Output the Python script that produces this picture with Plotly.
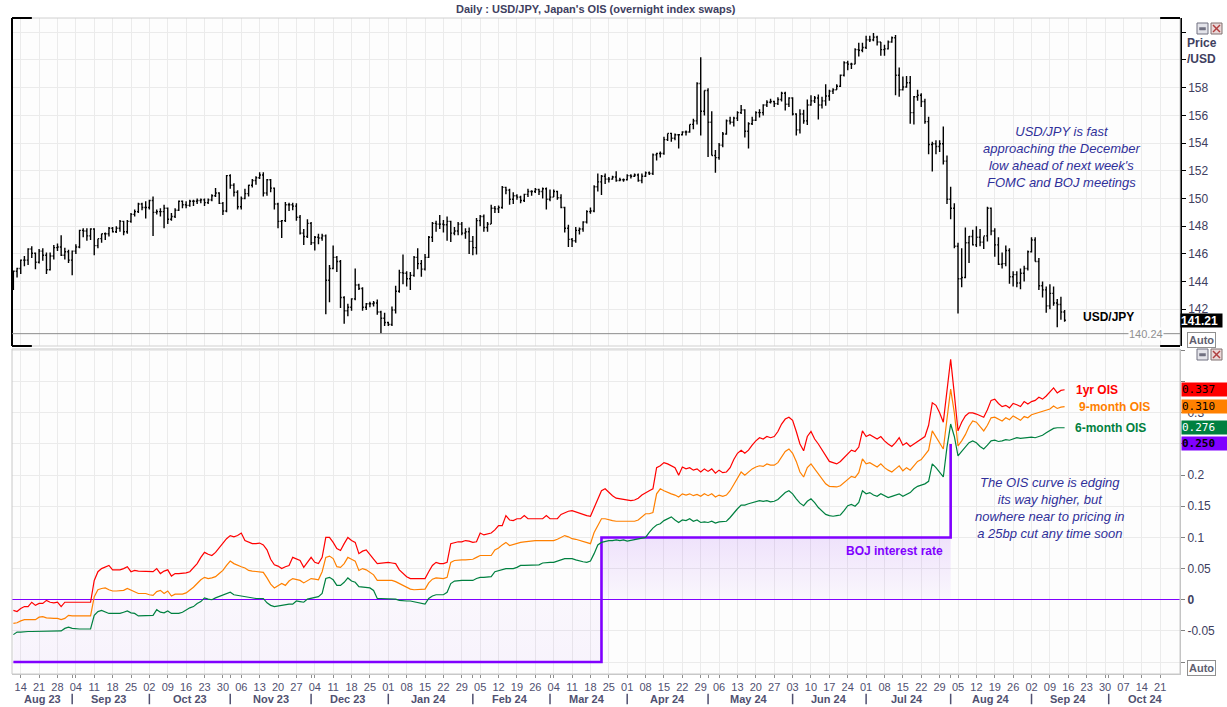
import pandas as pd
import plotly.graph_objects as go

# ---------------- data ----------------
first_day = "2023-08-10"
last_day = "2024-09-13"
dates = pd.bdate_range(first_day, last_day)

# USD/JPY daily OHLC (first row Aug 10-11 2023, then one row per week)
usd_open = [
    143.75, 144.75,
    144.95, 145.55, 145.55, 146.35, 146.05,
    145.40, 146.20, 145.90, 144.85, 145.85,
    146.45, 146.50, 145.90, 146.15, 145.55,
    146.20, 146.50, 147.70, 147.65, 147.30,
    147.80, 146.60, 147.10, 147.45, 147.45,
    147.85, 147.60, 147.85, 148.35, 147.60,
    148.35, 148.85, 149.05, 149.60, 149.35,
    149.35, 149.85, 149.00, 149.05, 149.05,
    149.30, 148.50, 148.70, 149.15, 149.80,
    149.55, 149.50, 149.80, 149.80, 149.85,
    149.90, 149.70, 149.90, 150.20, 150.40,
    149.65, 149.10, 151.65, 150.95, 150.45,
    149.40, 150.00, 150.35, 150.95, 151.30,
    151.50, 151.70, 150.40, 151.35, 150.75,
    149.60, 148.35, 148.40, 149.55, 149.55,
    149.45, 148.65, 147.50, 147.25, 148.20,
    146.80, 147.20, 147.15, 147.30, 144.10,
    144.95, 145.75, 145.45, 142.85, 141.90,
    142.15, 142.75, 143.75, 143.50, 142.15,
    142.40, 142.40, 142.45, 141.80, 141.35,
    141.05, 140.90, 141.95, 143.30, 144.65,
    144.60, 144.20, 144.45, 145.75, 145.30,
    144.90, 145.75, 147.20, 148.20, 148.15,
    148.15, 148.10, 148.35, 147.50, 147.65,
    148.15, 147.50, 147.60, 146.90, 146.45,
    148.40, 148.70, 147.90, 148.15, 149.30,
    149.25, 149.35, 150.80, 150.60, 149.95,
    150.20, 150.10, 149.85, 150.30, 150.50,
    150.50, 150.65, 150.50, 150.70, 149.95,
    150.10, 150.50, 150.05, 149.35, 147.85,
    147.05, 146.95, 147.70, 147.80, 148.30,
    149.05, 149.10, 150.85, 151.20, 151.60,
    151.40, 151.40, 151.55, 151.30, 151.35,
    151.35, 151.65, 151.60, 151.70, 151.30,
    151.60, 151.85, 151.80, 153.15, 153.25,
    153.25, 154.25, 154.70, 154.35, 154.60,
    154.60, 154.80, 154.80, 155.35, 155.60,
    158.30, 156.30, 157.80, 155.50, 153.10,
    152.95, 153.85, 154.65, 155.60, 155.50,
    155.80, 156.20, 156.40, 154.85, 155.40,
    155.65, 156.20, 156.20, 156.75, 156.95,
    157.00, 156.85, 157.15, 157.60, 156.80,
    157.25, 156.10, 154.95, 156.10, 155.60,
    156.75, 157.05, 157.25, 156.75, 157.05,
    157.40, 157.75, 157.85, 158.10, 158.90,
    159.80, 159.70, 159.70, 160.75, 160.70,
    160.90, 161.45, 161.45, 161.65, 161.30,
    160.75, 160.80, 161.30, 161.60, 158.90,
    157.85, 158.05, 158.35, 156.20, 157.35,
    157.45, 157.00, 155.55, 153.90, 153.95,
    153.75, 153.95, 152.70, 149.95, 149.30,
    146.55, 144.20, 144.30, 146.80, 147.25,
    146.65, 147.20, 146.85, 147.30, 149.30,
    147.65, 146.65, 145.25, 145.30, 146.25,
    144.35, 144.50, 143.90, 144.60, 144.95,
    146.15, 147.00, 145.45, 143.70, 143.40,
    142.25, 143.15, 142.45, 142.35, 141.80,
]
usd_high = [
    144.80, 145.00,
    145.60, 145.85, 146.40, 146.55, 146.10,
    146.35, 146.40, 146.10, 146.10, 146.65,
    146.75, 147.35, 146.45, 146.30, 146.25,
    146.70, 147.75, 147.85, 147.85, 147.85,
    147.85, 147.10, 147.45, 147.55, 147.95,
    147.95, 148.00, 148.45, 148.40, 148.45,
    148.95, 149.20, 149.70, 149.70, 149.80,
    149.90, 150.15, 149.20, 149.30, 149.55,
    149.35, 148.95, 149.30, 149.85, 149.85,
    149.80, 149.90, 149.90, 150.00, 150.00,
    150.00, 150.00, 150.30, 150.75, 150.45,
    149.75, 151.70, 151.75, 151.10, 150.60,
    150.15, 150.70, 151.00, 151.40, 151.60,
    151.90, 151.90, 151.40, 151.40, 150.80,
    149.70, 148.45, 149.75, 149.70, 149.70,
    149.65, 148.80, 147.80, 148.50, 148.30,
    147.30, 147.45, 147.45, 147.40, 145.20,
    146.60, 145.85, 145.55, 142.95, 142.40,
    142.80, 144.95, 143.85, 143.60, 142.45,
    142.55, 142.60, 142.70, 141.90, 141.75,
    141.10, 142.20, 143.70, 144.85, 145.95,
    144.75, 144.70, 145.85, 146.40, 145.55,
    146.00, 147.30, 148.30, 148.40, 148.80,
    148.45, 148.70, 148.40, 147.95, 148.30,
    148.30, 147.85, 147.90, 147.30, 148.60,
    148.80, 148.85, 148.30, 149.55, 149.45,
    149.50, 150.90, 150.85, 150.70, 150.45,
    150.30, 150.20, 150.35, 150.70, 150.60,
    150.75, 150.70, 150.80, 150.80, 150.65,
    150.65, 150.55, 150.30, 149.40, 148.10,
    147.15, 147.95, 147.90, 148.35, 149.15,
    149.35, 150.95, 151.80, 151.70, 151.80,
    151.55, 151.65, 151.97, 151.50, 151.45,
    151.75, 151.75, 151.80, 151.80, 151.80,
    151.95, 151.95, 153.25, 153.30, 153.40,
    154.45, 154.70, 154.75, 154.70, 154.65,
    154.85, 154.90, 155.35, 155.75, 158.40,
    160.20, 157.80, 157.95, 156.30, 153.50,
    154.00, 154.80, 155.70, 155.90, 155.90,
    156.30, 156.75, 156.45, 155.50, 155.90,
    156.30, 156.45, 156.80, 157.10, 157.20,
    157.05, 157.30, 157.70, 157.70, 157.30,
    157.30, 156.15, 156.45, 156.40, 157.15,
    157.45, 157.40, 157.50, 157.35, 158.25,
    157.85, 157.95, 158.25, 158.95, 159.90,
    159.95, 159.80, 160.85, 161.25, 161.25,
    161.75, 161.75, 161.95, 161.75, 161.30,
    161.10, 161.40, 161.70, 161.80, 159.45,
    158.80, 158.85, 158.85, 157.40, 157.85,
    157.60, 157.20, 155.90, 154.10, 154.20,
    154.20, 155.20, 153.10, 150.85, 149.65,
    146.80, 146.40, 147.90, 147.30, 147.75,
    148.00, 147.80, 147.25, 149.40, 149.35,
    147.85, 147.20, 146.10, 146.60, 146.40,
    144.75, 144.75, 144.95, 145.15, 146.25,
    147.20, 147.20, 145.70, 144.00, 143.65,
    143.80, 143.65, 142.75, 142.90, 141.95,
]
usd_low = [
    143.40, 144.30,
    144.55, 145.10, 145.20, 145.70, 144.90,
    145.30, 145.50, 144.55, 144.80, 145.60,
    146.20, 145.85, 145.60, 145.35, 144.45,
    146.00, 146.40, 147.20, 146.95, 147.00,
    145.90, 146.40, 146.80, 147.00, 147.25,
    147.55, 147.50, 147.60, 147.35, 147.45,
    148.25, 148.70, 148.95, 149.15, 148.55,
    149.20, 147.30, 148.85, 148.70, 147.85,
    148.15, 148.40, 148.60, 149.10, 149.30,
    149.30, 149.40, 149.45, 149.60, 149.65,
    149.45, 149.60, 149.80, 150.10, 149.60,
    148.80, 149.00, 150.70, 150.15, 149.20,
    149.20, 149.95, 150.15, 150.80, 151.00,
    151.40, 150.15, 150.20, 150.45, 149.20,
    147.85, 147.15, 148.30, 149.10, 149.15,
    148.40, 147.40, 146.65, 147.15, 146.65,
    146.25, 146.70, 146.95, 141.65, 142.50,
    144.90, 144.70, 142.10, 140.95, 141.50,
    141.90, 142.65, 143.40, 141.90, 141.95,
    142.15, 142.20, 141.60, 140.25, 140.80,
    140.80, 140.80, 141.70, 143.20, 143.80,
    143.65, 143.40, 144.35, 144.90, 144.35,
    144.80, 145.70, 146.85, 147.60, 147.80,
    147.55, 146.95, 146.85, 147.35, 147.35,
    147.35, 147.10, 146.00, 145.90, 145.95,
    148.00, 147.60, 147.60, 148.15, 148.95,
    148.95, 149.25, 150.30, 149.55, 149.60,
    149.90, 149.65, 149.75, 150.10, 150.20,
    150.40, 150.25, 150.00, 149.20, 149.80,
    150.10, 149.90, 149.30, 147.55, 146.50,
    146.50, 146.80, 147.40, 147.60, 148.20,
    148.90, 149.00, 150.50, 150.25, 151.05,
    151.15, 151.35, 151.20, 151.25, 151.20,
    151.30, 151.45, 151.55, 151.20, 151.10,
    151.55, 151.70, 151.70, 152.75, 152.95,
    153.15, 154.15, 154.10, 154.20, 153.60,
    154.55, 154.55, 154.75, 155.00, 155.35,
    154.55, 156.00, 153.00, 153.10, 151.85,
    152.80, 153.70, 154.60, 155.35, 155.20,
    155.60, 156.10, 154.40, 153.60, 155.30,
    155.60, 155.85, 156.00, 156.60, 156.85,
    156.60, 156.75, 157.00, 156.35, 156.60,
    156.00, 154.55, 154.70, 155.40, 155.30,
    156.70, 156.90, 155.70, 156.50, 156.70,
    157.05, 157.55, 157.85, 158.05, 158.80,
    159.25, 159.35, 159.70, 160.25, 160.55,
    160.80, 161.30, 161.35, 161.05, 160.30,
    160.30, 160.75, 161.25, 157.45, 157.35,
    157.80, 158.00, 155.40, 155.35, 157.05,
    156.60, 155.40, 153.20, 151.95, 153.20,
    153.35, 152.45, 149.60, 148.50, 146.40,
    141.70, 143.60, 144.25, 145.35, 146.60,
    146.50, 146.55, 146.35, 146.90, 147.35,
    145.80, 145.20, 144.95, 145.10, 143.85,
    143.65, 143.60, 143.45, 144.00, 144.80,
    146.10, 145.45, 143.40, 142.85, 141.75,
    142.00, 142.25, 140.70, 141.25, 141.10,
]
usd_close = [
    144.75, 144.95,
    145.55, 145.55, 146.35, 146.05, 145.40,
    146.20, 145.90, 144.85, 145.85, 146.45,
    146.50, 145.90, 146.15, 145.55, 146.20,
    146.50, 147.70, 147.65, 147.30, 147.80,
    146.60, 147.10, 147.45, 147.45, 147.85,
    147.60, 147.85, 148.35, 147.60, 148.35,
    148.85, 149.05, 149.60, 149.35, 149.35,
    149.85, 149.00, 149.05, 149.05, 149.30,
    148.50, 148.70, 149.15, 149.80, 149.55,
    149.50, 149.80, 149.80, 149.85, 149.90,
    149.70, 149.90, 150.20, 150.40, 149.65,
    149.10, 151.65, 150.95, 150.45, 149.40,
    150.00, 150.35, 150.95, 151.30, 151.50,
    151.70, 150.40, 151.35, 150.75, 149.60,
    148.35, 148.40, 149.55, 149.55, 149.45,
    148.65, 147.50, 147.25, 148.20, 146.80,
    147.20, 147.15, 147.30, 144.10, 144.95,
    145.75, 145.45, 142.85, 141.90, 142.15,
    142.75, 143.75, 143.50, 142.15, 142.40,
    142.40, 142.45, 141.80, 141.35, 141.05,
    140.90, 141.95, 143.30, 144.65, 144.60,
    144.20, 144.45, 145.75, 145.30, 144.90,
    145.75, 147.20, 148.20, 148.15, 148.15,
    148.10, 148.35, 147.50, 147.65, 148.15,
    147.50, 147.60, 146.90, 146.45, 148.40,
    148.70, 147.90, 148.15, 149.30, 149.25,
    149.35, 150.80, 150.60, 149.95, 150.20,
    150.10, 149.85, 150.30, 150.50, 150.50,
    150.65, 150.50, 150.70, 149.95, 150.10,
    150.50, 150.05, 149.35, 147.85, 147.05,
    146.95, 147.70, 147.80, 148.30, 149.05,
    149.10, 150.85, 151.20, 151.60, 151.40,
    151.40, 151.55, 151.30, 151.35, 151.35,
    151.65, 151.60, 151.70, 151.30, 151.60,
    151.85, 151.80, 153.15, 153.25, 153.25,
    154.25, 154.70, 154.35, 154.60, 154.60,
    154.80, 154.80, 155.35, 155.60, 158.30,
    156.30, 157.80, 155.50, 153.10, 152.95,
    153.85, 154.65, 155.60, 155.50, 155.80,
    156.20, 156.40, 154.85, 155.40, 155.65,
    156.20, 156.20, 156.75, 156.95, 157.00,
    156.85, 157.15, 157.60, 156.80, 157.25,
    156.10, 154.95, 156.10, 155.60, 156.75,
    157.05, 157.25, 156.75, 157.05, 157.40,
    157.75, 157.85, 158.10, 158.90, 159.80,
    159.70, 159.70, 160.75, 160.70, 160.90,
    161.45, 161.45, 161.65, 161.30, 160.75,
    160.80, 161.30, 161.60, 158.90, 157.85,
    158.05, 158.35, 156.20, 157.35, 157.45,
    157.00, 155.55, 153.90, 153.95, 153.75,
    153.95, 152.70, 149.95, 149.30, 146.55,
    144.20, 144.30, 146.80, 147.25, 146.65,
    147.20, 146.85, 147.30, 149.30, 147.65,
    146.65, 145.25, 145.30, 146.25, 144.35,
    144.50, 143.90, 144.60, 144.95, 146.15,
    147.00, 145.45, 143.70, 143.40, 142.25,
    143.15, 142.45, 142.35, 141.80, 141.21,
]

# Japan OIS (%), same dates
ois_1y = [
    -0.017, -0.019,
    -0.014, -0.011, -0.011, -0.004, -0.009,
    -0.006, -0.006, -0.001, -0.004, -0.005,
    -0.004, -0.011, -0.004, -0.004, -0.004,
    -0.004, -0.004, -0.004, -0.004, -0.004,
    0.031, 0.045, 0.050, 0.052, 0.055,
    0.048, 0.048, 0.048, 0.050, 0.053,
    0.045, 0.047, 0.046, 0.046, 0.046,
    0.045, 0.045, 0.050, 0.042, 0.046,
    0.048, 0.038, 0.042, 0.042, 0.042,
    0.043, 0.045, 0.052, 0.058, 0.068,
    0.076, 0.073, 0.071, 0.076, 0.083,
    0.090, 0.098, 0.103, 0.101, 0.103,
    0.107, 0.095, 0.092, 0.090, 0.090,
    0.091, 0.088, 0.080, 0.065, 0.056,
    0.054, 0.050, 0.053, 0.055, 0.068,
    0.066, 0.063, 0.052, 0.060, 0.068,
    0.060, 0.058, 0.068, 0.100, 0.100,
    0.092, 0.082, 0.079, 0.090, 0.100,
    0.095, 0.092, 0.074, 0.078, 0.080,
    0.072, 0.065, 0.058, 0.059, 0.060,
    0.060, 0.059, 0.058, 0.048, 0.042,
    0.037, 0.034, 0.034, 0.034, 0.034,
    0.034, 0.045, 0.055, 0.060, 0.058,
    0.058, 0.060, 0.090, 0.092, 0.093,
    0.093, 0.095, 0.094, 0.092, 0.093,
    0.107, 0.104, 0.106, 0.107, 0.112,
    0.119, 0.119, 0.135, 0.128, 0.127,
    0.130, 0.130, 0.135, 0.130, 0.130,
    0.130, 0.130, 0.130, 0.135, 0.130,
    0.130, 0.130, 0.137, 0.140, 0.142,
    0.143, 0.141, 0.138, 0.136, 0.135,
    0.134, 0.148, 0.160, 0.175, 0.178,
    0.172, 0.167, 0.163, 0.162, 0.161,
    0.160, 0.159, 0.160, 0.163, 0.168,
    0.172, 0.175, 0.178, 0.212, 0.215,
    0.220, 0.218, 0.215, 0.212, 0.200,
    0.213, 0.210, 0.212, 0.208, 0.210,
    0.205, 0.210, 0.206, 0.210, 0.203,
    0.208, 0.204, 0.205, 0.212, 0.225,
    0.235, 0.240, 0.235, 0.240, 0.248,
    0.255, 0.260, 0.258, 0.262, 0.260,
    0.262, 0.270, 0.282, 0.290, 0.293,
    0.288, 0.270, 0.250, 0.239, 0.262,
    0.270, 0.258, 0.250, 0.240, 0.230,
    0.222, 0.220, 0.218, 0.222, 0.228,
    0.235, 0.240, 0.238, 0.245, 0.271,
    0.262, 0.265, 0.262, 0.258, 0.262,
    0.255, 0.250, 0.246, 0.252, 0.260,
    0.248, 0.252, 0.246, 0.250, 0.255,
    0.258, 0.262, 0.280, 0.316, 0.312,
    0.300, 0.285, 0.340, 0.386, 0.330,
    0.271, 0.285, 0.295, 0.300, 0.300,
    0.298, 0.295, 0.293, 0.305, 0.320,
    0.322, 0.315, 0.310, 0.312, 0.308,
    0.315, 0.313, 0.310, 0.318, 0.314,
    0.318, 0.320, 0.325, 0.322, 0.327,
    0.333, 0.340, 0.332, 0.336, 0.337,
]
ois_9m = [
    -0.038, -0.037,
    -0.034, -0.032, -0.032, -0.032, -0.032,
    -0.028, -0.027, -0.029, -0.030, -0.030,
    -0.030, -0.032, -0.030, -0.025, -0.026,
    -0.026, -0.026, -0.026, -0.026, -0.026,
    0.005, 0.016, 0.018, 0.019, 0.016,
    0.014, 0.014, 0.014, 0.015, 0.018,
    0.015, 0.012, 0.010, 0.010, 0.010,
    0.008, 0.007, 0.013, 0.015, 0.010,
    0.014, 0.006, 0.009, 0.009, 0.009,
    0.011, 0.015, 0.020, 0.026, 0.032,
    0.036, 0.034, 0.035, 0.037, 0.042,
    0.047, 0.055, 0.062, 0.058, 0.055,
    0.053, 0.051, 0.047, 0.046, 0.045,
    0.045, 0.044, 0.035, 0.025, 0.019,
    0.022, 0.026, 0.023, 0.030, 0.034,
    0.032, 0.031, 0.027, 0.030, 0.034,
    0.033, 0.032, 0.045, 0.068, 0.070,
    0.066, 0.053, 0.052, 0.058, 0.068,
    0.065, 0.062, 0.047, 0.050, 0.048,
    0.044, 0.040, 0.031, 0.031, 0.031,
    0.031, 0.031, 0.029, 0.026, 0.023,
    0.020, 0.017, 0.016, 0.016, 0.016,
    0.017, 0.027, 0.033, 0.035, 0.034,
    0.034, 0.036, 0.060, 0.063, 0.064,
    0.064, 0.064, 0.064, 0.065, 0.068,
    0.071, 0.071, 0.071, 0.071, 0.080,
    0.083, 0.088, 0.092, 0.087, 0.089,
    0.091, 0.092, 0.093, 0.094, 0.095,
    0.095, 0.095, 0.095, 0.095, 0.095,
    0.095, 0.097, 0.100, 0.103, 0.101,
    0.098, 0.097, 0.095, 0.093, 0.091,
    0.090, 0.108, 0.118, 0.130, 0.130,
    0.128, 0.127, 0.126, 0.126, 0.127,
    0.126, 0.127, 0.126, 0.128, 0.133,
    0.138, 0.138, 0.140, 0.170, 0.178,
    0.175, 0.172, 0.170, 0.168, 0.165,
    0.170, 0.168, 0.170, 0.167, 0.169,
    0.166, 0.170, 0.167, 0.170, 0.165,
    0.168, 0.166, 0.168, 0.175, 0.185,
    0.195, 0.205, 0.200, 0.205, 0.210,
    0.213, 0.215, 0.214, 0.218, 0.216,
    0.216, 0.220, 0.230, 0.238, 0.242,
    0.235, 0.222, 0.205, 0.197, 0.212,
    0.218, 0.210, 0.200, 0.193, 0.186,
    0.182, 0.181, 0.181, 0.183, 0.188,
    0.193, 0.198, 0.196, 0.204, 0.226,
    0.218, 0.220, 0.216, 0.213, 0.218,
    0.212, 0.208, 0.205, 0.210, 0.215,
    0.207, 0.212, 0.208, 0.215, 0.222,
    0.225, 0.232, 0.240, 0.271, 0.262,
    0.252, 0.242, 0.290, 0.338, 0.300,
    0.247, 0.255, 0.265, 0.278, 0.287,
    0.285, 0.278, 0.271, 0.280, 0.292,
    0.293, 0.290, 0.287, 0.292, 0.289,
    0.295, 0.292, 0.288, 0.294, 0.292,
    0.297, 0.299, 0.300, 0.302, 0.304,
    0.306, 0.311, 0.307, 0.309, 0.310,
]
ois_6m = [
    -0.056, -0.052,
    -0.052, -0.051, -0.051, -0.051, -0.051,
    -0.050, -0.050, -0.050, -0.050, -0.050,
    -0.050, -0.050, -0.046, -0.044, -0.046,
    -0.047, -0.047, -0.047, -0.047, -0.047,
    -0.025, -0.019, -0.017, -0.020, -0.022,
    -0.022, -0.022, -0.022, -0.020, -0.018,
    -0.021, -0.022, -0.026, -0.026, -0.026,
    -0.026, -0.025, -0.016, -0.020, -0.021,
    -0.018, -0.022, -0.022, -0.022, -0.020,
    -0.016, -0.013, -0.011, -0.006, -0.003,
    0.003, 0.001, 0.000, 0.003, 0.005,
    0.008, 0.010, 0.012, 0.008, 0.007,
    0.005, 0.004, 0.003, 0.002, 0.002,
    0.002, 0.002, -0.005, -0.009, -0.011,
    -0.010, -0.008, -0.007, -0.007, -0.007,
    -0.002, -0.003, -0.004, 0.001, 0.002,
    0.003, 0.005, 0.010, 0.034, 0.036,
    0.032, 0.023, 0.023, 0.028, 0.035,
    0.030, 0.028, 0.021, 0.020, 0.019,
    0.019, 0.015, 0.002, 0.002, 0.002,
    0.002, 0.002, 0.001, -0.001, -0.002,
    -0.002, -0.002, -0.003, -0.004, -0.006,
    -0.007, 0.002, 0.006, 0.008, 0.008,
    0.008, 0.012, 0.026, 0.030, 0.031,
    0.031, 0.031, 0.031, 0.031, 0.034,
    0.036, 0.036, 0.036, 0.037, 0.045,
    0.047, 0.049, 0.050, 0.050, 0.050,
    0.052, 0.055, 0.055, 0.055, 0.055,
    0.055, 0.056, 0.059, 0.060, 0.060,
    0.060, 0.062, 0.064, 0.066, 0.066,
    0.066, 0.064, 0.062, 0.061, 0.060,
    0.062, 0.074, 0.088, 0.092, 0.094,
    0.095, 0.095, 0.096, 0.095, 0.096,
    0.094, 0.095, 0.096, 0.097, 0.098,
    0.100, 0.108, 0.115, 0.120, 0.122,
    0.127, 0.130, 0.133, 0.128, 0.124,
    0.128, 0.127, 0.130, 0.126, 0.128,
    0.124, 0.125, 0.124, 0.126, 0.123,
    0.125, 0.125, 0.126, 0.132, 0.140,
    0.146, 0.152, 0.152, 0.154, 0.156,
    0.158, 0.159, 0.158, 0.159, 0.157,
    0.158, 0.161, 0.166, 0.172, 0.175,
    0.170, 0.162, 0.155, 0.151, 0.158,
    0.162, 0.156, 0.148, 0.142, 0.137,
    0.135, 0.134, 0.135, 0.136, 0.143,
    0.151, 0.153, 0.150, 0.156, 0.175,
    0.170, 0.172, 0.168, 0.166, 0.170,
    0.167, 0.164, 0.166, 0.168, 0.170,
    0.166, 0.169, 0.172, 0.178, 0.182,
    0.184, 0.186, 0.190, 0.218, 0.212,
    0.205, 0.197, 0.245, 0.282, 0.262,
    0.231, 0.238, 0.245, 0.252, 0.255,
    0.252, 0.246, 0.242, 0.248, 0.255,
    0.256, 0.254, 0.255, 0.257, 0.256,
    0.258, 0.260, 0.259, 0.260, 0.260,
    0.261, 0.260, 0.262, 0.264, 0.268,
    0.272, 0.275, 0.276, 0.276, 0.276,
]

# BOJ policy rate changes (effective dates)
boj_dates = ["2023-08-10", "2024-03-21", "2024-08-01"]
boj_rate = [-0.10, 0.10, 0.25]

dec_low = 140.24

price_ticks = [142, 144, 146, 148, 150, 152, 154, 156, 158, 160, 162]
price_labels = ["142", "144", "146", "148", "150", "152", "154", "156", "158", "", ""]
ois_ticks = [-0.1, -0.05, 0, 0.05, 0.1, 0.15, 0.2, 0.25, 0.3, 0.35, 0.4]
ois_labels = ["", "-0.05", "<b>0</b>", "0.05", "0.1", "0.15", "0.2", "", "0.3", "", ""]

x_range = ["2023-08-09 15:00", "2024-10-28 09:30"]
week_ticks = pd.date_range("2023-08-14", "2024-10-21", freq="7D")
week_labels = [d.strftime("%d") for d in week_ticks]
month_starts = pd.bdate_range("2023-09-01", "2024-10-01", freq="BMS")
month_list = pd.date_range("2023-08-01", "2024-10-01", freq="MS")

# ---------------- figure ----------------
FONT = "Liberation Sans, Arial, sans-serif"
RED, ORANGE, GREEN, PURPLE = "#ff0000", "#ff8000", "#008040", "#8000ff"
GRID = "#ebebeb"

fig = go.Figure()

fig.add_trace(go.Ohlc(
    x=dates, open=usd_open, high=usd_high, low=usd_low, close=usd_close,
    increasing=dict(line=dict(color="black", width=1.4)),
    decreasing=dict(line=dict(color="black", width=1.4)),
    tickwidth=0.35, xaxis="x", yaxis="y", hoverinfo="skip", showlegend=False,
))

fig.add_trace(go.Scatter(
    x=boj_dates, y=boj_rate, mode="lines",
    line=dict(color=PURPLE, width=2.6, shape="hv"),
    fill="tozeroy",
    fillgradient=dict(type="vertical", start=-0.1, stop=0.1,
                      colorscale=[[0, "rgba(150,60,240,0.05)"],
                                  [0.5, "rgba(150,60,240,0.03)"],
                                  [1, "rgba(150,60,240,0.14)"]]),
    xaxis="x2", yaxis="y2", hoverinfo="skip", showlegend=False,
))
for ser, col in [(ois_6m, GREEN), (ois_9m, ORANGE), (ois_1y, RED)]:
    fig.add_trace(go.Scatter(
        x=dates, y=ser, mode="lines", line=dict(color=col, width=1.2),
        xaxis="x2", yaxis="y2", hoverinfo="skip", showlegend=False,
    ))

common_x = dict(
    type="date", range=x_range, rangebreaks=[dict(bounds=["sat", "mon"])],
    tickmode="array", tickvals=week_ticks, showgrid=True, gridcolor=GRID,
    zeroline=False, fixedrange=True,
)
fig.update_layout(
    width=1227, height=707,
    margin=dict(l=12, r=47, t=18, b=33),
    paper_bgcolor="white", plot_bgcolor="#fdfdfd",
    font=dict(family=FONT, size=11, color="#404060"),
    showlegend=False,
    xaxis=dict(**common_x, anchor="y", domain=[0, 1], showticklabels=False,
               ticks="", rangeslider=dict(visible=False), matches="x2"),
    xaxis2=dict(**common_x, anchor="y2", domain=[0, 1], ticktext=week_labels,
                ticks="outside", ticklen=3, tickcolor="#909090",
                minor=dict(tickmode="array", tickvals=month_starts, ticks="outside",
                           ticklen=3, tickcolor="#909090", showgrid=False),
                showline=True, linecolor="#c8c8c8",
                tickfont=dict(family=FONT, size=11, color="#505070")),
    yaxis=dict(anchor="x", domain=[0.5, 1.0], side="right", range=[139.35, 163.03],
               tickmode="array", tickvals=price_ticks, ticktext=price_labels,
               ticks="outside", ticklen=4, tickcolor="black",
               showline=True, linecolor="black", linewidth=1.5,
               showgrid=True, gridcolor=GRID, zeroline=False, fixedrange=True,
               tickfont=dict(family=FONT, size=12, color="#404060")),
    yaxis2=dict(anchor="x2", domain=[0, 0.4954], side="right", range=[-0.1192, 0.4024],
                tickmode="array", tickvals=ois_ticks, ticktext=ois_labels,
                ticks="outside", ticklen=4, tickcolor="#808080",
                showline=True, linecolor="#c0c0c0",
                showgrid=True, gridcolor=GRID,
                zeroline=True, zerolinecolor=PURPLE, zerolinewidth=1, fixedrange=True,
                tickfont=dict(family=FONT, size=12, color="#404060")),
)

shapes = []
# top pane frame
shapes.append(dict(type="rect", xref="x domain", yref="y domain", x0=0, x1=1, y0=0, y1=1,
                   line=dict(color="#d0d0d0", width=1)))
for (xa, xb, ya, yb) in [(0, 0, 0, 1), (0, 0.017, 1, 1), (0, 0.017, 0, 0),
                         (0.983, 1, 1, 1), (0.983, 1, 0, 0)]:
    shapes.append(dict(type="line", xref="x domain", yref="y domain",
                       x0=xa, x1=xb, y0=ya, y1=yb, line=dict(color="black", width=2)))
# December low line
shapes.append(dict(type="line", xref="x domain", yref="y", x0=0, x1=1, y0=dec_low, y1=dec_low,
                   line=dict(color="#8c8c8c", width=1)))
# bottom pane frame
shapes.append(dict(type="rect", xref="x2 domain", yref="y2 domain", x0=0, x1=1, y0=0, y1=1,
                   line=dict(color="#c8c8c8", width=1)))


# window buttons (pane chrome)
def px_x(p):
    return (p - 12) / 1168.0


def px_y(p):
    return (674 - p) / 656.0


for top in (23, 349):
    shapes.append(dict(type="rect", xref="paper", yref="paper",
                       x0=px_x(1197), x1=px_x(1208), y0=px_y(top + 11), y1=px_y(top),
                       fillcolor="#e4e4ea", line=dict(color="#707080", width=1)))
    shapes.append(dict(type="rect", xref="paper", yref="paper",
                       x0=px_x(1199.5), x1=px_x(1205.5), y0=px_y(top + 7), y1=px_y(top + 4.5),
                       fillcolor="#707080", line=dict(color="#707080", width=0.5)))
    shapes.append(dict(type="rect", xref="paper", yref="paper",
                       x0=px_x(1211), x1=px_x(1222), y0=px_y(top + 11), y1=px_y(top),
                       fillcolor="#ead8d8", line=dict(color="#807070", width=1)))
    shapes.append(dict(type="line", xref="paper", yref="paper",
                       x0=px_x(1213), x1=px_x(1220), y0=px_y(top + 9), y1=px_y(top + 2),
                       line=dict(color="#b04040", width=1.5)))
    shapes.append(dict(type="line", xref="paper", yref="paper",
                       x0=px_x(1213), x1=px_x(1220), y0=px_y(top + 2), y1=px_y(top + 9),
                       line=dict(color="#b04040", width=1.5)))
fig.update_layout(shapes=shapes)

ann = []


def note(**kw):
    base = dict(showarrow=False, xanchor="center", yanchor="middle")
    base.update(kw)
    ann.append(base)


note(text="<b>Daily : USD/JPY, Japan's OIS (overnight index swaps)</b>",
     xref="paper", yref="paper", x=px_x(596), y=px_y(9),
     font=dict(family=FONT, size=11, color="#404060"))
note(text="<b>Price<br>/USD</b>", xref="paper", yref="paper", x=px_x(1185), y=px_y(51),
     xanchor="left", align="left", font=dict(family=FONT, size=12, color="#404060"))
for yc in (339.5, 668):
    note(text="<b>Auto</b>", xref="paper", yref="paper", x=px_x(1201), y=px_y(yc),
         bordercolor="#909090", borderwidth=1, borderpad=1, bgcolor="white",
         font=dict(family=FONT, size=11, color="#606070"))
# price markers
note(text="<b>%.2f</b>" % usd_close[-1], xref="paper", yref="y", x=1.0, y=usd_close[-1],
     xanchor="left", bgcolor="black", width=41, height=13, borderpad=0, align="left",
     font=dict(family=FONT, size=12, color="white"))
note(text="%.2f" % dec_low, xref="paper", yref="y", x=px_x(1146), y=dec_low,
     bgcolor="#fdfdfd", borderpad=0, font=dict(family=FONT, size=11, color="#909090"))
note(text="<b>USD/JPY</b>", xref="x", yref="y", x=dates[-1], y=usd_close[-1],
     xanchor="left", xshift=16, yshift=3, font=dict(family=FONT, size=12, color="black"))
# OIS value boxes
for val, bg, fc in [(ois_1y[-1], RED, "black"), (ois_9m[-1], ORANGE, "black"),
                    (ois_6m[-1], GREEN, "white")]:
    note(text="%.3f" % val, xref="paper", yref="y2", x=1.0, y=val, xanchor="left",
         xshift=1, bgcolor=bg, width=45, height=13, borderpad=0, align="left",
         font=dict(family="DejaVu Sans Mono, monospace", size=11, color=fc))
note(text="<b>%.3f</b>" % boj_rate[-1], xref="paper", yref="y2", x=1.0, y=boj_rate[-1],
     xanchor="left", xshift=1, bgcolor=PURPLE, width=45, height=13, borderpad=0, align="left",
     font=dict(family="DejaVu Sans Mono, monospace", size=11, color="black"))
# series labels
for val, txt, col, xs in [(ois_1y[-1], "1yr OIS", RED, 9), (ois_9m[-1], "9-month OIS", ORANGE, 12),
                          (ois_6m[-1], "6-month OIS", GREEN, 8)]:
    note(text="<b>%s</b>" % txt, xref="x2", yref="y2", x=dates[-1], y=val,
         xanchor="left", xshift=xs, font=dict(family=FONT, size=12, color=col))
note(text="<b>BOJ interest rate</b>", xref="paper", yref="paper", x=px_x(894), y=px_y(551),
     font=dict(family=FONT, size=12, color=PURPLE))
# commentary
note(text="<i>USD/JPY is fast<br>approaching the December<br>low ahead of next week's<br>"
          "FOMC and BOJ meetings</i>",
     xref="paper", yref="paper", x=px_x(1061), y=px_y(157), align="center",
     font=dict(family=FONT, size=13, color="#30309a"))
note(text="<i>The OIS curve is edging<br>its way higher, but<br>nowhere near to pricing in<br>"
          "a 25bp cut any time soon</i>",
     xref="paper", yref="paper", x=px_x(1050), y=px_y(508), align="center",
     font=dict(family=FONT, size=13, color="#30309a"))
# month labels
for m in month_list:
    m_end = m + pd.offsets.MonthEnd(0)
    lo = max(m, pd.Timestamp(x_range[0]).normalize() + pd.Timedelta(days=1))
    hi = min(m_end, pd.Timestamp(x_range[1]).normalize())
    bd = pd.bdate_range(lo, hi)
    mid = bd[len(bd) // 2]
    note(text="<b>%s</b>" % m.strftime("%b %y"), xref="x2", yref="paper", x=mid, y=-0.0377,
         font=dict(family=FONT, size=11, color="#505070"))
# month separators in the date axis (plain line segments, no head)
for d in month_starts:
    ann.append(dict(text="", xref="x2", yref="paper", x=d, y=-0.030,
                    showarrow=True, arrowhead=0, arrowwidth=1.5, arrowcolor="#505070",
                    ax=0, ay=12, standoff=0, startstandoff=0))
fig.update_layout(annotations=ann)

fig.write_html(
    "out.html",
    config={"displayModeBar": False},
    post_script="document.body.style.margin='0';document.body.style.overflow='hidden';",
)
